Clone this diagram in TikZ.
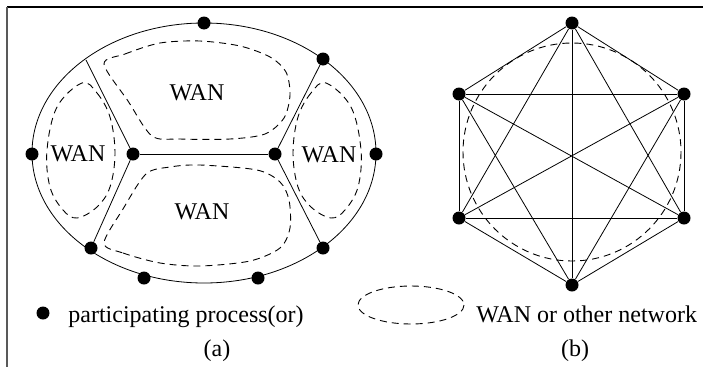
\documentclass[tikz,border=0pt]{standalone}
\usepackage{fontspec}
\setmainfont{Liberation Serif}
\usepackage{tikz}

\begin{document}
\begin{tikzpicture}[x=1pt,y=-1pt,line width=0.8pt]
			\tikzstyle{proc} = [circle,fill,inner sep=0pt,minimum size=13pt]
			\tikzstyle{wan} = [line width=0.9pt,dash pattern=on 7pt off 5pt]
			\tikzstyle{lbl} = [inner sep=0pt,font=\fontsize{24}{28}\selectfont]
			\useasboundingbox (0,0) rectangle (703,367);
			
			\draw[line width=1.4pt] (7,7) -- (703,7);
			\draw[line width=1.6pt,gray!70!black] (7,7) -- (7,367);
			
			% (a)
			\draw (204,153) ellipse [x radius=172, y radius=130];
			
			\node[proc] (top) at (204,23) {};
			\node[proc] (ur) at (323,59) {};
			\node[proc] (rt) at (376,154) {};
			\node[proc] (lr) at (323,248) {};
			\node[proc] (b2) at (258,278) {};
			\node[proc] (b1) at (144,278) {};
			\node[proc] (ll) at (91,248) {};
			\node[proc] (lt) at (32,154) {};
			\node[proc] (in1) at (133,154) {};
			\node[proc] (in2) at (275,154) {};
			\coordinate (ul) at (86,60);
			
			\path (ul) edge (in1);
			\path (in1) edge (ll);
			\path (in1) edge (in2);
			\path (in2) edge (ur);
			\path (in2) edge (lr);
			
			\draw[wan] plot[smooth cycle,tension=0.5] coordinates {(104,64) (125,54) (160,43) (200,41) (240,46) (270,57) (286,72) (290,95) (284,118) (265,134) (230,139) (180,139) (152,136) (128,101)};
			\draw[wan] plot[smooth cycle,tension=0.5] coordinates {(104,243) (123,253) (160,263) (200,266) (250,261) (280,248) (290,228) (289,200) (280,182) (257,170) (200,165) (170,167) (146,174) (123,209)};
			\draw[wan] plot[smooth cycle,tension=0.6] coordinates {(82,83) (97,93) (110,117) (115,153) (110,187) (97,207) (77,218) (63,210) (50,187) (47,150) (57,107)};
			\draw[wan] plot[smooth cycle,tension=0.6] coordinates {(326,83) (311,93) (298,117) (293,153) (298,187) (311,207) (331,218) (345,210) (358,187) (361,150) (351,107)};
			
			\node[lbl] (wt) at (197,93) {WAN};
			\node[lbl] (wb) at (202,212) {WAN};
			\node[lbl] (wl) at (78,154) {WAN};
			\node[lbl] (wr) at (329,155) {WAN};
			
			% (b)
			\draw[wan] (572,152) circle [radius=109];
			
			\node[proc] (h1) at (572,23) {};
			\node[proc] (h2) at (684,94) {};
			\node[proc] (h3) at (684,218) {};
			\node[proc] (h4) at (572,285) {};
			\node[proc] (h5) at (459,218) {};
			\node[proc] (h6) at (459,94) {};
			
			\path (h1) edge (h2) edge (h3) edge (h4) edge (h5) edge (h6);
			\path (h2) edge (h3) edge (h4) edge (h5) edge (h6);
			\path (h3) edge (h4) edge (h5) edge (h6);
			\path (h4) edge (h5) edge (h6);
			\path (h5) edge (h6);
			
			% legend
			\node[proc] (key) at (43,313) {};
			\node[lbl,anchor=base west] (keytxt) at (68,322) {participating process(or)};
			\draw[wan] (411,305) ellipse [x radius=53, y radius=19];
			\node[lbl,anchor=base west] (nettxt) at (476,322) {WAN or other network};
			
			\node[lbl,anchor=base] (capa) at (217,356) {(a)};
			\node[lbl,anchor=base] (capb) at (575,356) {(b)};
		\end{tikzpicture}
\end{document}
